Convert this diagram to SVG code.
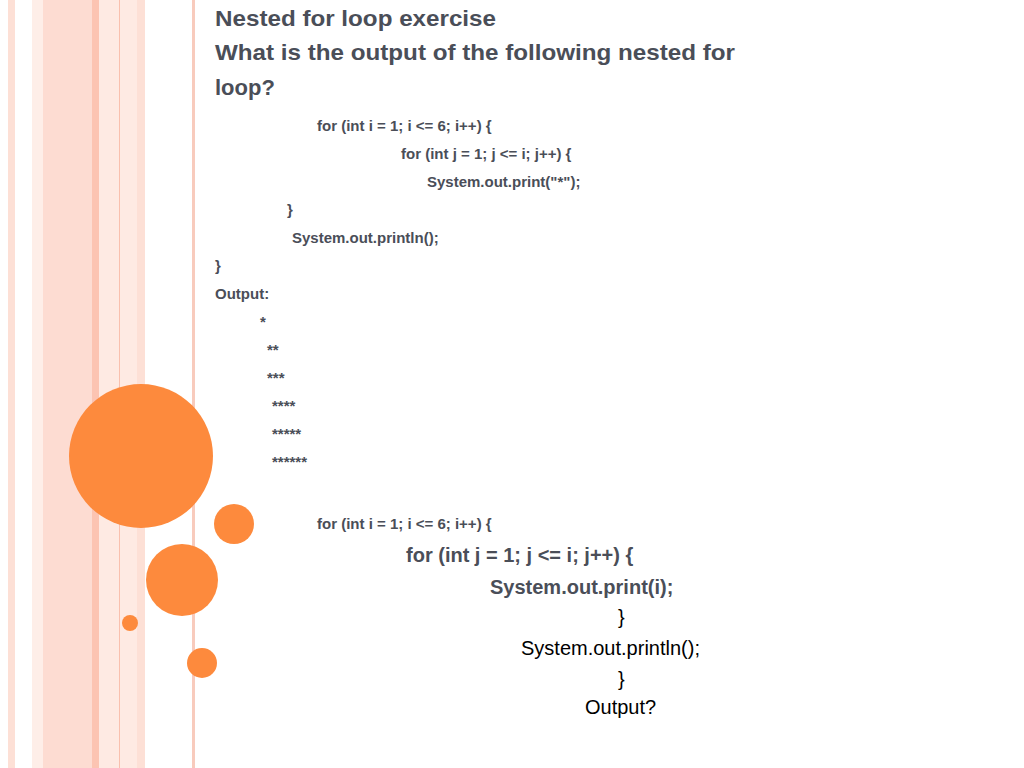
<svg xmlns="http://www.w3.org/2000/svg" width="1024" height="768" viewBox="0 0 1024 768">
<style>
.t{font-family:"Liberation Sans",Arial,sans-serif;font-weight:bold;fill:#4a4e58}
.h{font-size:22px}.c{font-size:15px}.b{font-size:20px}
.n{font-family:"Liberation Sans",Arial,sans-serif;fill:#000;font-size:20px}
.o{fill:#fd8a3d}
</style>
<rect width="1024" height="768" fill="#fff"/>
<g id="stripes">
<rect x="8" y="0" width="7" height="768" fill="#fde0d6"/>
<rect x="32" y="0" width="11" height="768" fill="#feeee8"/>
<rect x="43" y="0" width="49" height="768" fill="#fddcd2"/>
<rect x="92" y="0" width="7" height="768" fill="#fcc4b2"/>
<rect x="99" y="0" width="20" height="768" fill="#feeae3"/>
<rect x="119" y="0" width="1" height="768" fill="#f9c0ae"/>
<rect x="120" y="0" width="17" height="768" fill="#feeae3"/>
<rect x="137" y="0" width="8" height="768" fill="#fde0d6"/>
<rect x="192" y="0" width="3" height="768" fill="#f8cbbd"/>
</g>
<g id="circles">
<circle class="o" cx="141" cy="456" r="72"/>
<circle class="o" cx="234" cy="524" r="20"/>
<circle class="o" cx="182" cy="580" r="36"/>
<circle class="o" cx="130" cy="623" r="8"/>
<circle class="o" cx="202" cy="663" r="15"/>
</g>
<g id="text">
<text class="t h" x="215" y="26" textLength="281" lengthAdjust="spacingAndGlyphs">Nested for loop exercise</text>
<text class="t h" x="215" y="60" textLength="520" lengthAdjust="spacingAndGlyphs">What is the output of the following nested for</text>
<text class="t h" x="215" y="95">loop?</text>
<text class="t c" x="317" y="131">for (int i = 1; i &lt;= 6; i++) {</text>
<text class="t c" x="401" y="159">for (int j = 1; j &lt;= i; j++) {</text>
<text class="t c" x="427" y="187">System.out.print("*");</text>
<text class="t c" x="287" y="215">}</text>
<text class="t c" x="292" y="243">System.out.println();</text>
<text class="t c" x="215" y="271">}</text>
<text class="t c" x="215" y="299">Output:</text>
<text class="t c" x="260" y="327">*</text>
<text class="t c" x="267" y="355">**</text>
<text class="t c" x="267" y="383">***</text>
<text class="t c" x="272" y="411">****</text>
<text class="t c" x="272" y="439">*****</text>
<text class="t c" x="272" y="467">******</text>
<text class="t c" x="317" y="529">for (int i = 1; i &lt;= 6; i++) {</text>
<text class="t b" x="406" y="562">for (int j = 1; j &lt;= i; j++) {</text>
<text class="t b" x="490" y="594">System.out.print(i);</text>
<text class="n" x="618" y="624">}</text>
<text class="n" x="521" y="655">System.out.println();</text>
<text class="n" x="618" y="686">}</text>
<text class="n" x="585" y="714">Output?</text>
</g>
</svg>
